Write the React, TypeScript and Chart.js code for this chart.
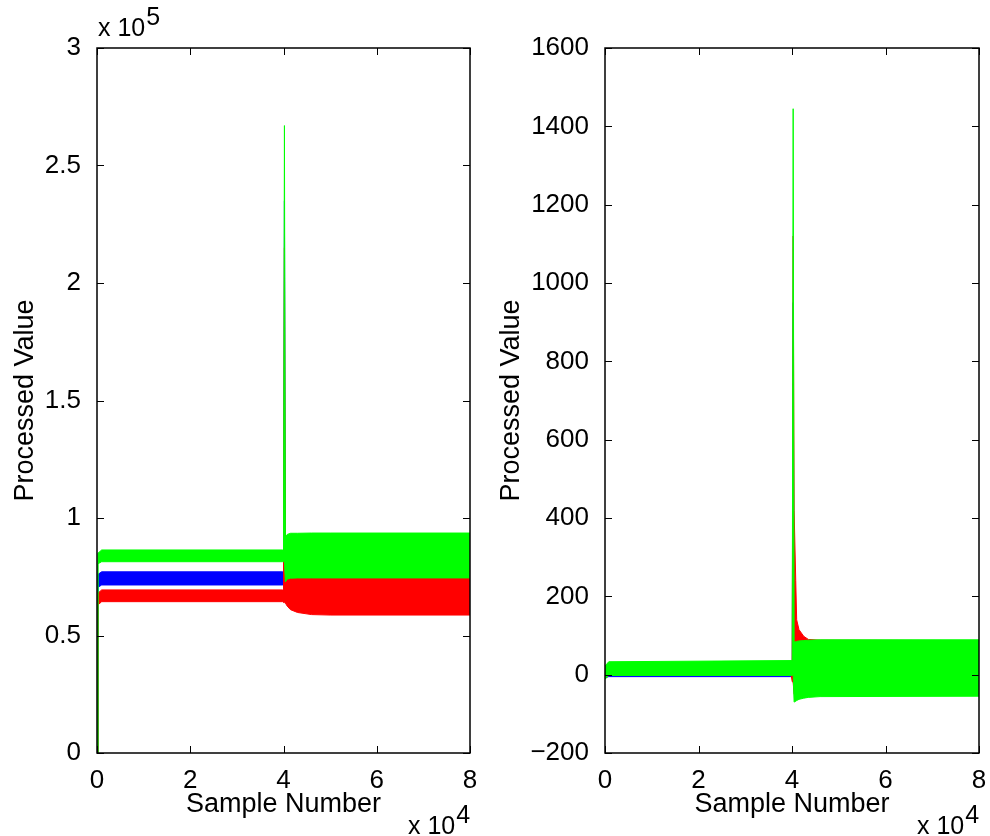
import React, { useEffect, useRef } from 'react';
import { Chart, registerables } from 'chart.js';

Chart.register(...registerables);

const FONT = "'Liberation Sans', Arial, Helvetica, sans-serif";
const GREEN = '#00ff00';
const RED = '#ff0000';
const BLUE = '#0000ff';

// ---- Tick labels ----
const xTickLabels = ['0', '2', '4', '6', '8'];
const leftYTickLabels = ['0', '0.5', '1', '1.5', '2', '2.5', '3'];
const rightYTickLabels = ['\u2212200', '0', '200', '400', '600', '800', '1000', '1200', '1400', '1600'];

// ---- Left subplot: envelope (upper / lower) of each band ----
const leftSamples = [0, 200, 1000, 39800, 40000, 40200, 40400, 40800, 41500, 43000, 46000, 50000, 80000];
const leftGreenUpper = [0, 85000, 86400, 86400, 86400, 267000, 92000, 93000, 93500, 93500, 93600, 93600, 93600];
const leftGreenLower = [0, 80500, 81400, 81400, 81400, 81400, 72800, 74000, 74400, 74500, 74500, 74500, 74500];
const leftRedUpper = [0, 68000, 69400, 69400, 69400, 215000, 74000, 74500, 74500, 74500, 74500, 74500, 74500];
const leftRedLower = [0, 63000, 64400, 64400, 64000, 64000, 63800, 62500, 61000, 59800, 58900, 58700, 58700];
const leftBlueUpper = [0, 76000, 77100, 77100, 77100, 235000, 84000, 84000, 84000, 84000, 84000, 84000, 84000];
const leftBlueLower = [0, 70500, 71500, 71500, 71500, 71500, 66000, 66000, 66000, 66000, 66000, 66000, 66000];

// ---- Right subplot ----
const rightSamples = [0, 800, 39800, 40050, 40250, 40450, 40800, 41000, 41500, 42500, 43500, 46000, 80000];
const rightGreenUpper = [22, 33, 36, 36, 1445, 84, 84, 85, 86, 87, 88, 89, 89];
const rightGreenLower = [-12, -2, -2, -2, 0, -70, -68, -66, -63, -60, -58, -56, -55];
const rightRedUpper = [20, 30, 30, 30, 1120, 420, 240, 140, 115, 98, 90, 88, 87];
const rightRedLower = [-10, 0, 0, -18, -20, -50, -50, -50, -50, -50, -50, -50, -50];
const rightBlueUpper = [5, 3, 3, 3, 950, 60, 60, 60, 60, 60, 60, 60, 60];
const rightBlueLower = [-8, -5, -5, -5, -10, -40, -40, -40, -40, -40, -40, -40, -40];

function band(xs: number[], upper: number[], lower: number[], color: string) {
  const common = {
    borderColor: color,
    backgroundColor: color,
    borderWidth: 1,
    pointRadius: 0,
    tension: 0,
  };
  return [
    { ...common, data: xs.map((x, i) => ({ x, y: upper[i] })), fill: false },
    { ...common, data: xs.map((x, i) => ({ x, y: lower[i] })), fill: '-1' },
  ];
}

type Cfg = {
  xs: number[];
  green: [number[], number[]];
  red: [number[], number[]];
  blue: [number[], number[]];
  yMin: number;
  yMax: number;
  yStep: number;
  yLabels: string[];
  yAxisWidth: number;
  padRight: number;
  ylabelX: number;
  topExp: string | null;
};

function framePlugin(cfg: Cfg) {
  return {
    id: 'matlabFrame',
    afterDraw(chart: any) {
      const { ctx, chartArea: a, scales } = chart;
      ctx.save();
      ctx.strokeStyle = '#000';
      ctx.lineWidth = 1;
      const tl = 7;
      ctx.beginPath();
      scales.x.ticks.forEach((t: any) => {
        const px = Math.round(scales.x.getPixelForValue(t.value)) + 0.5;
        ctx.moveTo(px, a.bottom);
        ctx.lineTo(px, a.bottom - tl);
        ctx.moveTo(px, a.top);
        ctx.lineTo(px, a.top + tl);
      });
      scales.y.ticks.forEach((t: any) => {
        const py = Math.round(scales.y.getPixelForValue(t.value)) + 0.5;
        ctx.moveTo(a.left, py);
        ctx.lineTo(a.left + tl, py);
        ctx.moveTo(a.right, py);
        ctx.lineTo(a.right - tl, py);
      });
      ctx.stroke();
      ctx.lineWidth = 1.5;
      ctx.strokeRect(a.left, a.top, a.right - a.left, a.bottom - a.top);

      ctx.fillStyle = '#000';
      // x label
      ctx.font = `27px ${FONT}`;
      ctx.textAlign = 'center';
      ctx.textBaseline = 'alphabetic';
      ctx.fillText('Sample Number', (a.left + a.right) / 2, 812);
      // y label
      ctx.save();
      ctx.translate(cfg.ylabelX, (a.top + a.bottom) / 2);
      ctx.rotate(-Math.PI / 2);
      ctx.fillText('Processed Value', 0, 0);
      ctx.restore();

      // exponent labels
      ctx.font = `25px ${FONT}`;
      ctx.textAlign = 'left';
      const drawExp = (x: number, y: number, exp: string) => {
        const base = 'x 10';
        ctx.fillText(base, x, y);
        const w = ctx.measureText(base).width;
        ctx.fillText(exp, x + w + 1, y - 11);
      };
      drawExp(a.right - 62, 834, '4');
      if (cfg.topExp) drawExp(a.left + 1, 36, cfg.topExp);
      ctx.restore();
    },
  };
}

function SubPlot({ cfg }: { cfg: Cfg }) {
  const ref = useRef<HTMLCanvasElement | null>(null);
  useEffect(() => {
    if (!ref.current) return;
    const tickFont = { family: FONT, size: 26 };
    const chart = new Chart(ref.current, {
      type: 'line',
      data: {
        datasets: [
          ...band(cfg.xs, cfg.green[0], cfg.green[1], GREEN),
          ...band(cfg.xs, cfg.red[0], cfg.red[1], RED),
          ...band(cfg.xs, cfg.blue[0], cfg.blue[1], BLUE),
        ] as any,
      },
      options: {
        animation: false,
        responsive: false,
        devicePixelRatio: 1,
        layout: { padding: { left: 0, right: cfg.padRight, top: 48, bottom: 0 } },
        plugins: { legend: { display: false }, tooltip: { enabled: false } },
        scales: {
          x: {
            type: 'linear',
            min: 0,
            max: 80000,
            ticks: {
              stepSize: 20000,
              callback: (_v: any, i: number) => xTickLabels[i],
              font: tickFont,
              color: '#000',
              padding: 4,
              maxRotation: 0,
              autoSkip: false,
            },
            grid: { display: false },
            border: { display: false },
            afterFit: (s: any) => {
              s.height = 83;
              s.paddingLeft = 0;
              s.paddingRight = 0;
            },
          },
          y: {
            type: 'linear',
            min: cfg.yMin,
            max: cfg.yMax,
            ticks: {
              stepSize: cfg.yStep,
              callback: (_v: any, i: number) => cfg.yLabels[i],
              font: tickFont,
              color: '#000',
              padding: 8,
              autoSkip: false,
            },
            grid: { display: false },
            border: { display: false },
            afterFit: (s: any) => {
              s.width = cfg.yAxisWidth;
              s.paddingTop = 0;
              s.paddingBottom = 0;
            },
          },
        },
      } as any,
      plugins: [framePlugin(cfg)],
    });
    return () => chart.destroy();
  }, [cfg]);
  return <canvas ref={ref} width={495} height={836} style={{ display: 'block', width: 495, height: 836 }} />;
}

const leftCfg: Cfg = {
  xs: leftSamples,
  green: [leftGreenUpper, leftGreenLower],
  red: [leftRedUpper, leftRedLower],
  blue: [leftBlueUpper, leftBlueLower],
  yMin: 0,
  yMax: 300000,
  yStep: 50000,
  yLabels: leftYTickLabels,
  yAxisWidth: 97,
  padRight: 25,
  ylabelX: 33,
  topExp: '5',
};

const rightCfg: Cfg = {
  xs: rightSamples,
  green: [rightGreenUpper, rightGreenLower],
  red: [rightRedUpper, rightRedLower],
  blue: [rightBlueUpper, rightBlueLower],
  yMin: -200,
  yMax: 1600,
  yStep: 200,
  yLabels: rightYTickLabels,
  yAxisWidth: 110,
  padRight: 11,
  ylabelX: 24,
  topExp: null,
};

export default function App() {
  return (
    <div style={{ position: 'absolute', left: 0, top: 0, width: 990, height: 836, display: 'flex', background: '#fff' }}>
      <SubPlot cfg={leftCfg} />
      <SubPlot cfg={rightCfg} />
    </div>
  );
}
